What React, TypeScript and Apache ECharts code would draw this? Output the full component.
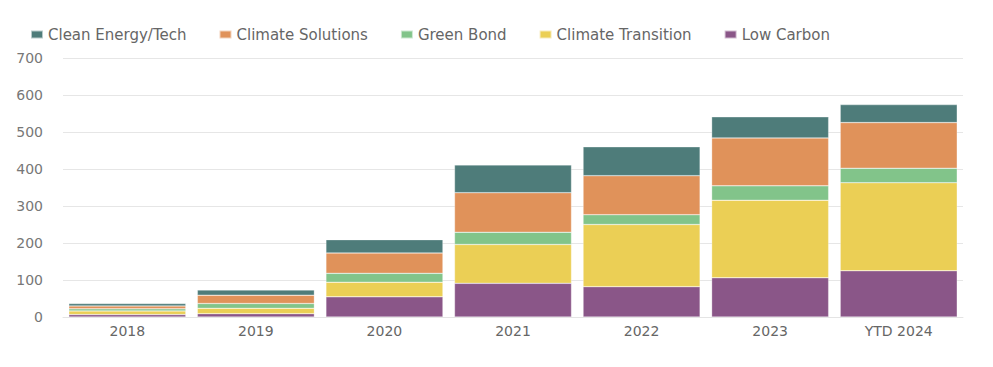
import React, { useEffect, useRef } from "react";
import * as echarts from "echarts";

const categories = ["2018", "2019", "2020", "2021", "2022", "2023", "YTD 2024"];
const lowCarbon = [6.5, 9, 54.5, 91, 82, 106, 125];
const climateTransition = [10, 14.5, 39.5, 105, 168, 209.5, 238];
const greenBond = [5.5, 13, 24, 33, 26.5, 39, 39];
const climateSolutions = [8, 22.5, 55, 107, 105.5, 129.5, 123.5];
const cleanEnergy = [6.5, 14, 36, 75, 78, 57, 48.5];
const legendOrder = ["Clean Energy/Tech", "Climate Solutions", "Green Bond", "Climate Transition", "Low Carbon"];

const FONT = "DejaVu Sans";

export default function App() {
  const ref = useRef<HTMLDivElement>(null);
  useEffect(() => {
    const chart = echarts.init(ref.current!, null, { renderer: "svg" });
    const mk = (name: string, data: number[], color: string) => ({
      name,
      type: "bar",
      stack: "total",
      data,
      barCategoryGap: "9%",
      itemStyle: { color, borderColor: "rgba(255,255,255,0.6)", borderWidth: 0.5 },
    });
    chart.setOption({
      animation: false,
      backgroundColor: "#ffffff",
      legend: {
        data: legendOrder,
        left: 30,
        top: 27,
        padding: 0,
        itemWidth: 12,
        itemHeight: 8,
        itemGap: 32,
        icon: "rect",
        textStyle: { color: "#666", fontSize: 15, fontFamily: FONT },
      },
      grid: { left: 63, right: 30, top: 58, bottom: 50 },
      xAxis: {
        type: "category",
        data: categories,
        axisTick: { show: false },
        axisLine: { show: true, lineStyle: { color: "#e4e4e4" } },
        axisLabel: { color: "#666", fontSize: 14, fontFamily: FONT, margin: 7 },
      },
      yAxis: {
        type: "value",
        min: 0,
        max: 700,
        interval: 100,
        axisLine: { show: false },
        axisTick: { show: false },
        splitLine: { lineStyle: { color: "#e6e6e6" } },
        axisLabel: { color: "#777", fontSize: 14, fontFamily: FONT, margin: 20 },
      },
      series: [
        mk("Low Carbon", lowCarbon, "#8A5688"),
        mk("Climate Transition", climateTransition, "#EBCF55"),
        mk("Green Bond", greenBond, "#82C48A"),
        mk("Climate Solutions", climateSolutions, "#E0925A"),
        mk("Clean Energy/Tech", cleanEnergy, "#4E7C7A"),
      ],
    });
    return () => chart.dispose();
  }, []);
  return (
    <div
      ref={ref}
      style={{ position: "fixed", left: 0, top: 0, width: 993, height: 367 }}
    />
  );
}
